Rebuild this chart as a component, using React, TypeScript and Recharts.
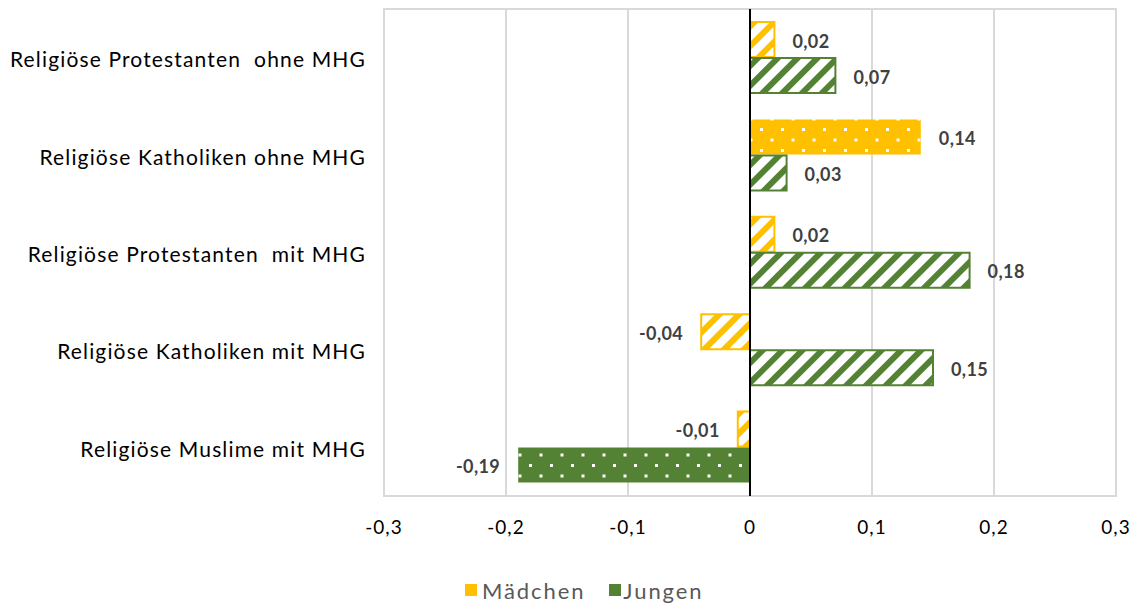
import React from 'react';
import {
  BarChart,
  Bar,
  XAxis,
  YAxis,
  CartesianGrid,
  Cell,
  LabelList,
  Legend,
  ReferenceArea,
  ReferenceLine,
} from 'recharts';

// Gruppen (Kategorien der Y-Achse)
const categories = [
  'Religiöse Protestanten  ohne MHG',
  'Religiöse Katholiken ohne MHG',
  'Religiöse Protestanten  mit MHG',
  'Religiöse Katholiken mit MHG',
  'Religiöse Muslime mit MHG',
];

// Effekte je Gruppe
const maedchen = [0.02, 0.14, 0.02, -0.04, -0.01];
const jungen = [0.07, 0.03, 0.18, 0.15, -0.19];

// signifikante Effekte werden gefüllt (gepunktet), sonst schraffiert
const maedchenSignifikant = [false, true, false, false, false];
const jungenSignifikant = [false, false, false, false, true];

const xTicks = [-0.3, -0.2, -0.1, 0, 0.1, 0.2, 0.3];

const ORANGE = '#FFC000';
const GREEN = '#548235';
const FONT = 'Lato, "Open Sans", sans-serif';

const data = categories.map((name, i) => ({
  name,
  m: maedchen[i],
  j: jungen[i],
  mSig: maedchenSignifikant[i],
  jSig: jungenSignifikant[i],
}));

const fmtTick = (v: number) => (v === 0 ? '0' : String(v).replace('.', ','));
const fmtValue = (v: number) => v.toFixed(2).replace('.', ',');

const CategoryTick = (props: any) => {
  const { x, y, payload } = props;
  return (
    <text
      x={x}
      y={y}
      dy={1}
      textAnchor="end"
      dominantBaseline="central"
      fill="#000"
      fontSize={21}
      fontFamily={FONT}
      style={{ whiteSpace: 'pre', letterSpacing: 1.15 }}
    >
      {payload.value}
    </text>
  );
};

const ValueTick = (props: any) => {
  const { x, y, payload } = props;
  return (
    <text
      x={x}
      y={y}
      dy={8}
      textAnchor="middle"
      dominantBaseline="central"
      fill="#000"
      fontSize={19}
      fontFamily={FONT}
      style={{ letterSpacing: 1 }}
    >
      {fmtTick(payload.value)}
    </text>
  );
};

const ValueLabel = (props: any) => {
  const { x, y, width, height, value } = props;
  const left = Math.min(x, x + width);
  const right = Math.max(x, x + width);
  const cy = y + height / 2;
  const positive = value >= 0;
  return (
    <text
      x={positive ? right + 18 : left - 18}
      y={cy}
      dy={1}
      textAnchor={positive ? 'start' : 'end'}
      dominantBaseline="central"
      fill="#404040"
      fontSize={18}
      fontWeight={700}
      fontFamily={FONT}
      style={{ letterSpacing: 0.4 }}
    >
      {fmtValue(value)}
    </text>
  );
};

const LegendContent = () => (
  <div
    style={{
      display: 'flex',
      alignItems: 'center',
      paddingLeft: 465,
      height: 36,
      fontFamily: FONT,
      fontSize: 22,
      letterSpacing: 1.9,
      color: '#595959',
    }}
  >
    <span style={{ width: 12, height: 12, background: ORANGE, display: 'inline-block', marginRight: 5 }} />
    <span style={{ marginRight: 24 }}>Mädchen</span>
    <span style={{ width: 12, height: 12, background: GREEN, display: 'inline-block', marginRight: 2 }} />
    <span>Jungen</span>
  </div>
);

const fillFor = (key: string, sig: boolean) => (sig ? `url(#dots-${key})` : `url(#hatch-${key})`);

export default function App() {
  return (
    <div style={{ position: 'absolute', left: 0, top: 0, background: '#fff' }}>
      <BarChart
        width={1136}
        height={608}
        data={data}
        layout="vertical"
        margin={{ top: 9, right: 20, bottom: 0, left: 0 }}
        barSize={35}
        barGap={1}
      >
        <defs>
          <pattern id="hatch-m" patternUnits="userSpaceOnUse" width={14} height={14} patternTransform="rotate(45)">
            <rect width={14} height={14} fill="#fff" />
            <rect width={6} height={14} fill={ORANGE} shapeRendering="crispEdges" />
          </pattern>
          <pattern id="hatch-j" patternUnits="userSpaceOnUse" width={14} height={14} patternTransform="rotate(45)">
            <rect width={14} height={14} fill="#fff" />
            <rect width={6} height={14} fill={GREEN} shapeRendering="crispEdges" />
          </pattern>
          <pattern id="dots-m" patternUnits="userSpaceOnUse" width={21} height={21}>
            <rect width={21} height={21} fill={ORANGE} />
            <rect x={4} y={2} width={3} height={3} fill="#fff" />
            <rect x={14.5} y={12.5} width={3} height={3} fill="#fff" />
          </pattern>
          <pattern id="dots-j" patternUnits="userSpaceOnUse" width={21} height={21}>
            <rect width={21} height={21} fill={GREEN} />
            <rect x={4} y={2} width={3} height={3} fill="#fff" />
            <rect x={14.5} y={12.5} width={3} height={3} fill="#fff" />
          </pattern>
        </defs>
        <CartesianGrid horizontal={false} stroke="#d9d9d9" strokeWidth={2} />
        <ReferenceArea x1={-0.3} x2={0.3} fill="none" stroke="#d9d9d9" strokeWidth={2} />
        <XAxis
          type="number"
          domain={[-0.3, 0.3]}
          ticks={xTicks}
          axisLine={false}
          tickLine={false}
          tickSize={0}
          tickMargin={22}
          height={76}
          interval={0}
          tick={<ValueTick />}
        />
        <YAxis
          type="category"
          dataKey="name"
          width={384}
          axisLine={false}
          tickLine={false}
          tickSize={0}
          tickMargin={18}
          interval={0}
          tick={<CategoryTick />}
        />
        <Bar dataKey="m" name="Mädchen" fill={ORANGE} isAnimationActive={false}>
          {data.map((d, i) => (
            <Cell
              key={`m-${i}`}
              fill={fillFor('m', d.mSig)}
              stroke={ORANGE}
              strokeWidth={d.mSig ? 0 : 2}
            />
          ))}
          <LabelList dataKey="m" content={<ValueLabel />} />
        </Bar>
        <Bar dataKey="j" name="Jungen" fill={GREEN} isAnimationActive={false}>
          {data.map((d, i) => (
            <Cell
              key={`j-${i}`}
              fill={fillFor('j', d.jSig)}
              stroke={GREEN}
              strokeWidth={d.jSig ? 0 : 2}
            />
          ))}
          <LabelList dataKey="j" content={<ValueLabel />} />
        </Bar>
        <ReferenceLine x={0} stroke="#000" strokeWidth={2} />
        <Legend verticalAlign="bottom" height={36} content={<LegendContent />} />
      </BarChart>
    </div>
  );
}
